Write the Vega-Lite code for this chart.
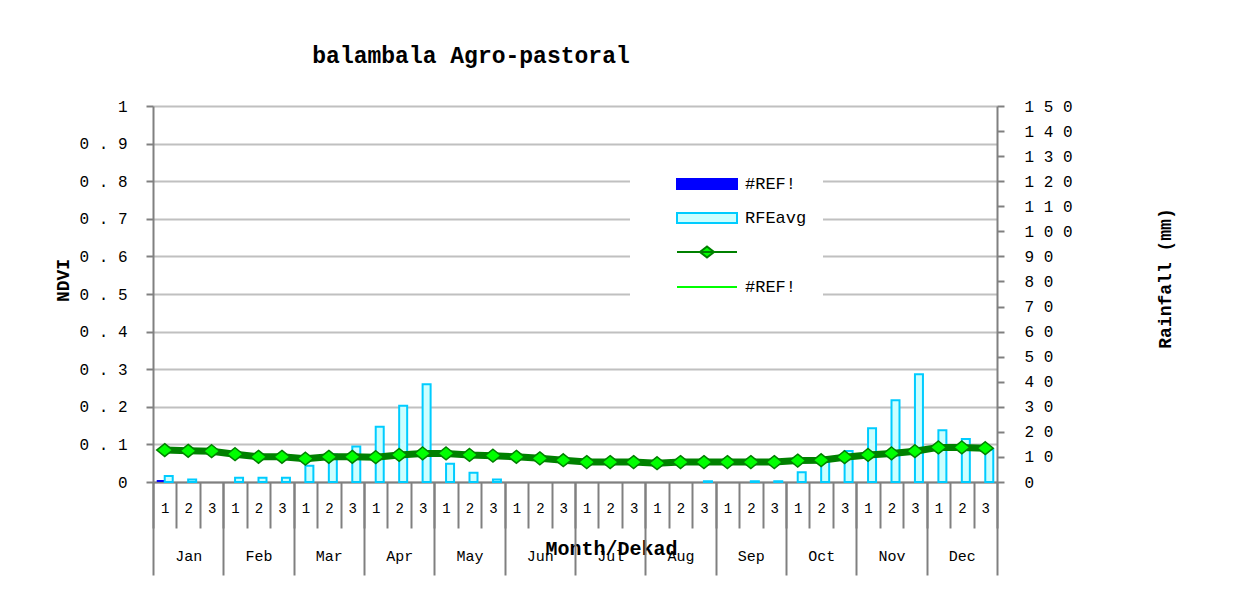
{
  "$schema": "https://vega.github.io/schema/vega-lite/v6.json",
  "width": 844,
  "height": 376,
  "autosize": {"type": "none"},
  "padding": {"left": 153, "top": 106, "right": 259, "bottom": 118},
  "background": "white",
  "config": {
    "view": {"stroke": null},
    "font": "Liberation Mono",
    "axis": {
      "tickColor": "#808080", "tickWidth": 2, "domainColor": "#808080", "domainWidth": 2,
      "labelFont": "Liberation Mono", "labelColor": "#000000", "titleFont": "Liberation Mono", "titleColor": "#000000",
      "gridColor": "#c0c0c0", "gridWidth": 2
    },
    "legend": {
      "orient": "none", "legendX": 477, "legendY": 46, "title": null,
      "symbolSize": 900, "symbolOffset": 45, "labelOffset": 22, "rowPadding": 9,
      "symbolStrokeWidth": 2, "symbolOpacity": 1,
      "fillColor": "white", "padding": 16,
      "labelFont": "Liberation Mono", "labelFontSize": 17, "labelColor": "#000000"
    }
  },
  "title": {"text": "balambala Agro-pastoral", "font": "Liberation Mono", "fontSize": 23, "fontWeight": "bold", "color": "#000000", "anchor": "middle", "frame": "group", "dx": -104, "offset": 30},
  "datasets": {
    "rain": [
      {"dk": 1, "series": "#REF!", "rain": 0.8},
      {"dk": 1, "series": "RFEavg", "rain": 2.4},
      {"dk": 2, "series": "RFEavg", "rain": 1.0},
      {"dk": 4, "series": "RFEavg", "rain": 1.7},
      {"dk": 5, "series": "RFEavg", "rain": 1.7},
      {"dk": 6, "series": "RFEavg", "rain": 1.7},
      {"dk": 7, "series": "RFEavg", "rain": 6.5},
      {"dk": 8, "series": "RFEavg", "rain": 11},
      {"dk": 9, "series": "RFEavg", "rain": 14.2},
      {"dk": 10, "series": "RFEavg", "rain": 22},
      {"dk": 11, "series": "RFEavg", "rain": 30.4},
      {"dk": 12, "series": "RFEavg", "rain": 39},
      {"dk": 13, "series": "RFEavg", "rain": 7.3},
      {"dk": 14, "series": "RFEavg", "rain": 3.7},
      {"dk": 15, "series": "RFEavg", "rain": 1.0},
      {"dk": 24, "series": "RFEavg", "rain": 0.3},
      {"dk": 26, "series": "RFEavg", "rain": 0.3},
      {"dk": 27, "series": "RFEavg", "rain": 0.3},
      {"dk": 28, "series": "RFEavg", "rain": 3.9},
      {"dk": 29, "series": "RFEavg", "rain": 9.5},
      {"dk": 30, "series": "RFEavg", "rain": 12.4},
      {"dk": 31, "series": "RFEavg", "rain": 21.4},
      {"dk": 32, "series": "RFEavg", "rain": 32.6},
      {"dk": 33, "series": "RFEavg", "rain": 43},
      {"dk": 34, "series": "RFEavg", "rain": 20.6},
      {"dk": 35, "series": "RFEavg", "rain": 17.2},
      {"dk": 36, "series": "RFEavg", "rain": 13}
    ],
    "ndvi": [
      {"dk": 1, "ndvi": 0.085}, {"dk": 2, "ndvi": 0.083}, {"dk": 3, "ndvi": 0.082},
      {"dk": 4, "ndvi": 0.074}, {"dk": 5, "ndvi": 0.067}, {"dk": 6, "ndvi": 0.067},
      {"dk": 7, "ndvi": 0.062}, {"dk": 8, "ndvi": 0.067}, {"dk": 9, "ndvi": 0.067},
      {"dk": 10, "ndvi": 0.066}, {"dk": 11, "ndvi": 0.072}, {"dk": 12, "ndvi": 0.076},
      {"dk": 13, "ndvi": 0.076}, {"dk": 14, "ndvi": 0.072}, {"dk": 15, "ndvi": 0.070},
      {"dk": 16, "ndvi": 0.067}, {"dk": 17, "ndvi": 0.063}, {"dk": 18, "ndvi": 0.058},
      {"dk": 19, "ndvi": 0.053}, {"dk": 20, "ndvi": 0.053}, {"dk": 21, "ndvi": 0.053},
      {"dk": 22, "ndvi": 0.050}, {"dk": 23, "ndvi": 0.053}, {"dk": 24, "ndvi": 0.053},
      {"dk": 25, "ndvi": 0.053}, {"dk": 26, "ndvi": 0.053}, {"dk": 27, "ndvi": 0.053},
      {"dk": 28, "ndvi": 0.057}, {"dk": 29, "ndvi": 0.058}, {"dk": 30, "ndvi": 0.066},
      {"dk": 31, "ndvi": 0.072}, {"dk": 32, "ndvi": 0.076}, {"dk": 33, "ndvi": 0.082},
      {"dk": 34, "ndvi": 0.092}, {"dk": 35, "ndvi": 0.092}, {"dk": 36, "ndvi": 0.090}
    ],
    "months": [
      {"m": "Jan"}, {"m": "Feb"}, {"m": "Mar"}, {"m": "Apr"}, {"m": "May"}, {"m": "Jun"},
      {"m": "Jul"}, {"m": "Aug"}, {"m": "Sep"}, {"m": "Oct"}, {"m": "Nov"}, {"m": "Dec"}
    ],
    "legend": [
      {"lg": "#REF!"}, {"lg": "RFEavg"}, {"lg": "  "}, {"lg": "#REF! "}
    ]
  },
  "layer": [
    {
      "layer": [
        {
          "data": {"name": "rain"},
          "mark": {"type": "bar", "strokeWidth": 2},
          "encoding": {
            "x": {
              "field": "dk", "type": "ordinal",
              "scale": {"type": "band", "paddingInner": 0, "paddingOuter": 0},
              "axis": {
                "orient": "bottom", "labelAngle": 0, "tickBand": "extent", "tickSize": 46,
                "labelExpr": "isNumber(datum.value) && datum.value > 0 ? '' + ((datum.value - 1) % 3 + 1) : ''",
                "labelPadding": -20, "labelBaseline": "middle", "labelFontSize": 14,
                "title": "Month/Dekad", "titleFontSize": 20, "titleFontWeight": "bold",
                "titleX": 458, "titleY": 66, "titleAlign": "center", "titleBaseline": "middle"
              }
            },
            "xOffset": {"field": "series", "scale": {"domain": ["#REF!", "RFEavg"], "paddingInner": 0, "paddingOuter": 0.465}},
            "y": {
              "field": "rain", "type": "quantitative",
              "scale": {"domain": [0, 150]},
              "axis": {
                "orient": "right", "values": [0, 10, 20, 30, 40, 50, 60, 70, 80, 90, 100, 110, 120, 130, 140, 150],
                "labelExpr": "join(split(datum.label, ''), ' ')", "grid": false, "tickSize": 7, "labelPadding": 20, "labelFontSize": 16,
                "title": "Rainfall (mm)", "titleFontSize": 18, "titleFontWeight": "bold",
                "titleX": 168, "titleY": 172, "titleAngle": 270, "titleAlign": "center", "titleBaseline": "middle"
              }
            },
            "color": {
              "field": "series", "type": "nominal",
              "scale": {"domain": ["#REF!", "RFEavg"], "range": ["#0000ff", "#ccffff"]},
              "legend": null
            },
            "stroke": {"condition": {"test": "datum.series === 'RFEavg'", "value": "#00ccff"}, "value": "transparent"}
          }
        },
        {
          "data": {"name": "ndvi"},
          "mark": {"type": "line", "strokeWidth": 7, "color": "#008000"},
          "encoding": {
            "x": {"field": "dk", "type": "ordinal"},
            "y": {
              "field": "ndvi", "type": "quantitative",
              "scale": {"domain": [0, 1]},
              "axis": {
                "orient": "left", "values": [0, 0.1, 0.2, 0.3, 0.4, 0.5, 0.6, 0.7, 0.8, 0.9, 1],
                "format": ".1~f", "labelExpr": "replace(datum.label, '.', ' . ')",
                "grid": true, "tickSize": 7, "labelPadding": 19, "labelFontSize": 16,
                "title": "NDVI", "titleFontSize": 18, "titleFontWeight": "bold",
                "titleX": -90, "titleY": 174, "titleAngle": 270, "titleAlign": "center", "titleBaseline": "middle"
              }
            }
          }
        },
        {
          "data": {"name": "ndvi"},
          "mark": {"type": "point", "shape": "M0,-0.8L1,0L0,0.8L-1,0Z", "size": 256, "filled": true, "fill": "#00ff00", "stroke": "#008000", "strokeWidth": 1.5, "opacity": 1},
          "encoding": {
            "x": {"field": "dk", "type": "ordinal"},
            "y": {"field": "ndvi", "type": "quantitative", "scale": {"domain": [0, 1]}, "axis": null}
          }
        }
      ],
      "resolve": {"scale": {"y": "independent"}}
    },
    {
      "data": {"name": "months"},
      "mark": {"type": "bar", "opacity": 0},
      "encoding": {
        "x": {
          "field": "m", "type": "nominal", "sort": null,
          "scale": {"type": "band", "paddingInner": 0, "paddingOuter": 0},
          "axis": {
            "orient": "bottom", "labelAngle": 0, "tickBand": "extent", "tickSize": 93,
            "labelPadding": -20, "labelBaseline": "middle", "labelFontSize": 15,
            "domain": false, "title": null
          }
        }
      }
    },
    {
      "data": {"name": "legend"},
      "transform": [{"filter": "datum.lg === 'none'"}],
      "mark": {"type": "point", "filled": true, "opacity": 1, "strokeWidth": 2, "size": 900},
      "encoding": {
        "fill": {
          "field": "lg", "type": "nominal",
          "scale": {"domain": ["#REF!", "RFEavg", "  ", "#REF! "], "range": ["#0000ff", "#ccffff", "#00ff00", "transparent"]},
          "legend": {"labelExpr": "trim(datum.label)"}
        },
        "stroke": {
          "field": "lg", "type": "nominal",
          "scale": {"domain": ["#REF!", "RFEavg", "  ", "#REF! "], "range": ["#0000ff", "#00ccff", "#008000", "#00ff00"]},
          "legend": {"labelExpr": "trim(datum.label)"}
        },
        "shape": {
          "field": "lg", "type": "nominal",
          "scale": {"domain": ["#REF!", "RFEavg", "  ", "#REF! "], "range": ["M-2,-0.33H2V0.33H-2Z", "M-2,-0.33H2V0.33H-2Z", "M-2,0H2M0,-0.37L0.47,0L0,0.37L-0.47,0Z", "M-2,0H2"]},
          "legend": {"labelExpr": "trim(datum.label)"}
        }
      }
    }
  ],
  "resolve": {"scale": {"x": "independent"}}
}
